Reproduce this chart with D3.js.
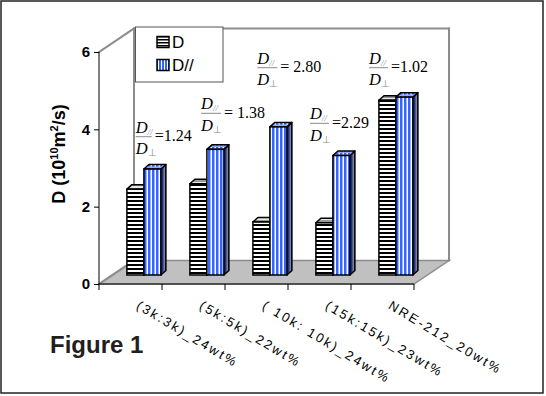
<!DOCTYPE html>
<html>
<head>
<meta charset="utf-8">
<script src="https://cdn.jsdelivr.net/npm/d3@7"></script>
<style>
  html, body { margin: 0; padding: 0; background: #fff; }
  svg { display: block; }
</style>
</head>
<body>
<svg id="chart" width="546" height="396"></svg>
<script>
// ---------- data ----------
const categories = ["(3k:3k)_24wt%", "(5k:5k)_22wt%", "( 10k: 10k)_24wt%", "(15k:15k)_23wt%", "NRE-212_20wt%"];
const seriesNames = ["D", "D//"];
const valuesPerp = [2.22, 2.36, 1.37, 1.35, 4.52];
const valuesPar  = [2.74, 3.25, 3.83, 3.09, 4.60];
const ratioLabels = ["=1.24", "= 1.38", "= 2.80", "=2.29", "=1.02"];
const yTicks = [0, 2, 4, 6];

// ---------- layout ----------
const W = 546, H = 396;
const plot = { left: 99, right: 414, top: 52, bottom: 284 };
const wallDX = 35, wallDY = -23.5;       // depth of the 3D box
const barDepthFrac = 0.383;             // bars sit this far into the box
const barDX = 5, barDY = -4.5;          // own depth of each bar
const annotPos = [[135.7, 136.7], [201, 113.3], [257.3, 67.7], [310, 123.3], [369, 67.7]];
const fracW = [16, 20, 20, 19, 19];

const svg = d3.select("#chart");
const defs = svg.append("defs");

// patterns
function pat(id, w, h, bg, draws) {
  const p = defs.append("pattern").attr("id", id).attr("patternUnits", "userSpaceOnUse")
    .attr("width", w).attr("height", h);
  p.append("rect").attr("width", w).attr("height", h).attr("fill", bg);
  draws.forEach(d => p.append("rect").attr("x", d[0]).attr("y", d[1]).attr("width", d[2]).attr("height", d[3]).attr("fill", d[4]));
}
pat("hFront", 4, 4, "#fff", [[0, 0, 4, 2, "#000"]]);
pat("hTop", 4, 4, "#e6e6e6", [[0, 0, 4, 2, "#9a9a9a"]]);
pat("hSide", 4, 4, "#888", [[0, 0, 4, 2, "#000"]]);
pat("vFront", 4, 4, "#3366ff", [[2.5, 0, 1.5, 4, "#fff"]]);
pat("vTop", 4, 3, "#3366ff", [[2.5, 0, 1.5, 3, "#fff"], [0, 1.5, 4, 1.5, "#8fa8ff"]]);
pat("vSide", 3, 4, "#1b2f8a", [[1.5, 0, 1.5, 4, "#7d8394"]]);
pat("legD", 3, 3, "#fff", [[0, 0, 3, 1.5, "#000"]]);
pat("legP", 3, 3, "#3366ff", [[2, 0, 1, 3, "#fff"]]);

// outer border
svg.append("rect").attr("x", 1).attr("y", 1).attr("width", 542).attr("height", 392)
  .attr("fill", "#fff").attr("stroke", "#222").attr("stroke-width", 1.5);

// scales
const x0 = d3.scaleBand().domain(categories).range([plot.left, plot.right]).paddingInner(0).paddingOuter(0);
const x1 = d3.scaleBand().domain(seriesNames).range([0, x0.bandwidth()]).paddingInner(0).paddingOuter(0.853);
const y = d3.scaleLinear().domain([0, 6]).range([plot.bottom, plot.top]);

// ---------- 3D box: walls and floor ----------
const wallColor = "#8c8c8c";
const bl = [plot.left + wallDX, plot.bottom + wallDY];
const tl = [plot.left + wallDX, plot.top + wallDY];
const br = [plot.right + wallDX, plot.bottom + wallDY];
const tr = [plot.right + wallDX, plot.top + wallDY];

svg.append("polygon")
  .attr("points", [[plot.left, plot.bottom], [plot.right, plot.bottom], br, bl].map(p => p.join(",")).join(" "))
  .attr("fill", "#c0c0c0").attr("stroke", wallColor).attr("stroke-width", 1.5);

const wallLines = [
  [[plot.left, plot.top], tl],
  [tl, tr],
  [tr, br],
  [tl, bl],
  [[plot.left, plot.bottom], bl]
];
svg.append("g").selectAll("line").data(wallLines).join("line")
  .attr("x1", d => d[0][0]).attr("y1", d => d[0][1]).attr("x2", d => d[1][0]).attr("y2", d => d[1][1])
  .attr("stroke", wallColor).attr("stroke-width", 2).attr("stroke-linecap", "square");

// ---------- legend ----------
const lg = svg.append("g");
lg.append("rect").attr("x", 135.5).attr("y", 27).attr("width", 87.5).attr("height", 55)
  .attr("fill", "#fff").attr("stroke", "#555").attr("stroke-width", 1);
const legFills = ["url(#legD)", "url(#legP)"];
seriesNames.forEach((s, i) => {
  lg.append("rect").attr("x", 157).attr("y", 36.5 + i * 23).attr("width", 12).attr("height", 11)
    .attr("fill", legFills[i]).attr("stroke", "#000").attr("stroke-width", 1.5);
  lg.append("text").attr("x", 172).attr("y", 47.5 + i * 23).text(s)
    .attr("font-family", "Liberation Sans, Arial, sans-serif").attr("font-size", 17).attr("fill", "#000");
});

// ---------- bars ----------
const bdX = wallDX * barDepthFrac, bdY = wallDY * barDepthFrac;
const barData = [];
categories.forEach((c, i) => {
  barData.push({ c, s: seriesNames[0], v: valuesPerp[i], k: 0 });
  barData.push({ c, s: seriesNames[1], v: valuesPar[i], k: 1 });
});
const fills = [
  { front: "url(#hFront)", top: "url(#hTop)", side: "url(#hSide)" },
  { front: "url(#vFront)", top: "url(#vTop)", side: "url(#vSide)" }
];
const bars = svg.append("g").selectAll("g").data(barData).join("g");
bars.each(function (d) {
  const g = d3.select(this);
  const xl = x0(d.c) + x1(d.s) + bdX;
  const w = x1.bandwidth();
  const yt = y(d.v) + bdY;
  const yb = y(0) + bdY;
  const f = fills[d.k];
  const pts = a => a.map(p => p.join(",")).join(" ");
  g.append("polygon").attr("points", pts([[xl + w, yt], [xl + w + barDX, yt + barDY], [xl + w + barDX, yb + barDY], [xl + w, yb]]))
    .attr("fill", f.side).attr("stroke", "#000").attr("stroke-width", 1.5).attr("stroke-linejoin", "round");
  g.append("polygon").attr("points", pts([[xl, yt], [xl + w, yt], [xl + w + barDX, yt + barDY], [xl + barDX, yt + barDY]]))
    .attr("fill", f.top).attr("stroke", "#000").attr("stroke-width", 1.5).attr("stroke-linejoin", "round");
  g.append("rect").attr("x", xl).attr("y", yt).attr("width", w).attr("height", yb - yt)
    .attr("fill", f.front).attr("stroke", "#000").attr("stroke-width", 1.5);
});

// ---------- axes ----------
const yAxis = d3.axisLeft(y).tickValues(yTicks).tickSize(5).tickPadding(4).tickFormat(d3.format("d"));
const ya = svg.append("g").attr("transform", `translate(${plot.left},0)`).call(yAxis);
ya.select(".domain").attr("stroke", "#000").attr("d", `M0,${plot.top}V${plot.bottom}`);
ya.selectAll(".tick line").attr("stroke", "#000");
ya.selectAll(".tick text").attr("font-family", "Liberation Sans, Arial, sans-serif")
  .attr("font-size", 15).attr("font-weight", "bold").attr("fill", "#000");

// x axis: line + ticks at category boundaries
const bounds = categories.map(c => x0(c)).concat([plot.right]);
const xa = svg.append("g");
xa.append("line").attr("x1", plot.left).attr("x2", plot.right).attr("y1", plot.bottom).attr("y2", plot.bottom)
  .attr("stroke", "#000").attr("stroke-width", 1);
xa.selectAll("line.t").data(bounds).join("line").attr("class", "t")
  .attr("x1", d => d).attr("x2", d => d).attr("y1", plot.bottom).attr("y2", plot.bottom + 6)
  .attr("stroke", "#000");
xa.selectAll("text").data(categories).join("text")
  .attr("transform", c => `translate(${x0(c) + x0.bandwidth() / 2 + 5},${308}) rotate(31)`)
  .attr("font-family", "Liberation Sans, Arial, sans-serif").attr("font-size", 13)
  .attr("letter-spacing", 2.3).attr("fill", "#000").text(c => c);

// y title
const yt = svg.append("text").attr("transform", "translate(65,154) rotate(-90)")
  .attr("text-anchor", "middle").attr("font-family", "Liberation Sans, Arial, sans-serif")
  .attr("font-size", 18).attr("font-weight", "bold").attr("fill", "#000");
yt.append("tspan").text("D (10");
yt.append("tspan").attr("dy", -7).attr("font-size", 11).text("10");
yt.append("tspan").attr("dy", 7).text("m");
yt.append("tspan").attr("dy", -7).attr("font-size", 11).text("2");
yt.append("tspan").attr("dy", 7).text("/s)");

// figure label
svg.append("text").attr("x", 50).attr("y", 353).text("Figure 1")
  .attr("font-family", "Liberation Sans, Arial, sans-serif").attr("font-size", 24)
  .attr("font-weight", "bold").attr("fill", "#231f20");

// ---------- ratio annotations ----------
const serif = "Liberation Serif, Times New Roman, serif";
ratioLabels.forEach((lab, i) => {
  const [ax, ay] = annotPos[i];
  const g = svg.append("g");
  const num = g.append("text").attr("x", ax).attr("y", ay - 4).attr("font-family", serif).attr("font-size", 16.5).attr("fill", "#000");
  num.append("tspan").attr("font-style", "italic").text("D");
  num.append("tspan").attr("font-size", 9).attr("font-style", "italic").attr("fill", "#8a8a8a").attr("dy", 2).text("//");
  g.append("line").attr("x1", ax).attr("x2", ax + fracW[i]).attr("y1", ay).attr("y2", ay)
    .attr("stroke", "#8a8a8a").attr("stroke-width", 1);
  const den = g.append("text").attr("x", ax).attr("y", ay + 17.5).attr("font-family", serif).attr("font-size", 16.5).attr("fill", "#000");
  den.append("tspan").attr("font-style", "italic").text("D");
  den.append("tspan").attr("font-size", 10).attr("fill", "#8a8a8a").attr("dy", 2).text("⊥");
  g.append("text").attr("x", ax + fracW[i] + 3).attr("y", ay + 4.5).attr("font-family", serif)
    .attr("font-size", 16).attr("fill", "#000").text(lab);
});
</script>
</body>
</html>
